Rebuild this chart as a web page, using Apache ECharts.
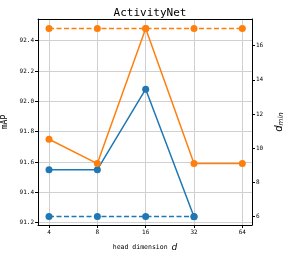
<!DOCTYPE html>
<html><head><meta charset="utf-8">
<script src="https://cdn.jsdelivr.net/npm/echarts@6/dist/echarts.min.js"></script>
<style>html,body{margin:0;padding:0;background:#fff}#c{width:285px;height:257px}</style>
</head><body><div id="c"></div>
<script>
const categories = ['4', '8', '16', '32', '64'];
const mapBlue = [91.55, 91.55, 92.08, 91.24, null];
const mapOrange = [91.75, 91.59, 92.48, 91.59, 91.59];
const dminBlue = [6, 6, 6, 6, null];
const dminOrange = [17, 17, 17, 17, 17];
const leftTicks = [91.2, 91.4, 91.6, 91.8, 92.0, 92.2, 92.4];
const rightTicks = [6, 8, 10, 12, 14, 16];

const BLUE = '#1f77b4', ORANGE = '#ff7f0e';
const mono = 'DejaVu Sans Mono';
const pts = arr => arr.map((v, i) => [i, v]).filter(p => p[1] !== null);
const chart = echarts.init(document.getElementById('c'), null, {renderer: 'canvas'});
const lineS = (data, color, dashed, yIdx) => ({
  type: 'line', data: pts(data), yAxisIndex: yIdx, xAxisIndex: 0,
  symbol: 'circle', symbolSize: 7, showSymbol: true,
  lineStyle: {color, width: 1.5, type: dashed ? [5, 2.5] : 'solid'},
  itemStyle: {color}, animation: false
});
chart.setOption({
  animation: false,
  title: {text: 'ActivityNet', left: 145, top: 3, textAlign: 'center',
    textStyle: {fontFamily: mono, fontSize: 11, fontWeight: 'normal', color: '#000'}},
  grid: {left: 38, right: 33, top: 19, bottom: 32, containLabel: false, outerBoundsMode: 'none'},
  xAxis: [{
    type: 'value', min: -0.228, max: 4.2,
    axisLine: {lineStyle: {color: '#000', width: 1}},
    axisTick: {show: true, length: 3, customValues: [0, 1, 2, 3, 4], lineStyle: {color: '#000'}},
    axisLabel: {customValues: [0, 1, 2, 3, 4], formatter: v => categories[Math.round(v)],
      fontFamily: mono, fontSize: 6, color: '#000', margin: 4},
    splitLine: {show: true, lineStyle: {color: '#d0d0d0', width: 1}},
    name: 'head dimension {i|d}', nameLocation: 'middle', nameGap: 18,
    nameTextStyle: {fontFamily: mono, fontSize: 6.5, color: '#000',
      rich: {i: {fontFamily: 'DejaVu Sans', fontStyle: 'italic', fontSize: 9, color: '#000'}}}
  }, {
    type: 'value', position: 'top', min: -0.228, max: 4.2,
    axisLine: {show: true, onZero: false, lineStyle: {color: '#000', width: 1}},
    axisTick: {show: false}, axisLabel: {show: false}, splitLine: {show: false}
  }],
  yAxis: [{
    type: 'value', min: 91.185, max: 92.543, position: 'left',
    axisLine: {show: true, onZero: false, lineStyle: {color: '#000', width: 1}},
    axisTick: {show: true, length: 3, customValues: leftTicks, lineStyle: {color: '#000'}},
    axisLabel: {customValues: leftTicks, formatter: v => v.toFixed(1),
      fontFamily: mono, fontSize: 6, color: '#000', margin: 4},
    splitLine: {show: true, lineStyle: {color: '#d0d0d0', width: 1}},
    name: 'mAP', nameLocation: 'middle', nameGap: 25, nameRotate: 90,
    nameTextStyle: {fontFamily: mono, fontSize: 8, color: '#000'}
  }, {
    type: 'value', min: 5.51, max: 17.56, position: 'right',
    axisLine: {show: true, onZero: false, lineStyle: {color: '#000', width: 1}},
    axisTick: {show: true, length: 3, customValues: rightTicks, lineStyle: {color: '#000'}},
    axisLabel: {customValues: rightTicks, formatter: v => String(v),
      fontFamily: mono, fontSize: 6, color: '#000', margin: 4},
    splitLine: {show: false},
    name: '{i|d}{s|min}', nameLocation: 'middle', nameGap: 21, nameRotate: 90,
    nameTextStyle: {color: '#000',
      rich: {i: {fontFamily: 'DejaVu Sans', fontStyle: 'italic', fontSize: 10, color: '#000'},
             s: {fontFamily: 'DejaVu Sans', fontStyle: 'italic', fontSize: 7, color: '#000', verticalAlign: 'bottom', padding: [4, 0, 0, 0]}}}
  }],
  series: [
    lineS(mapBlue, BLUE, false, 0),
    lineS(dminBlue, BLUE, true, 1),
    lineS(mapOrange, ORANGE, false, 0),
    lineS(dminOrange, ORANGE, true, 1)
  ]
});
</script></body></html>
